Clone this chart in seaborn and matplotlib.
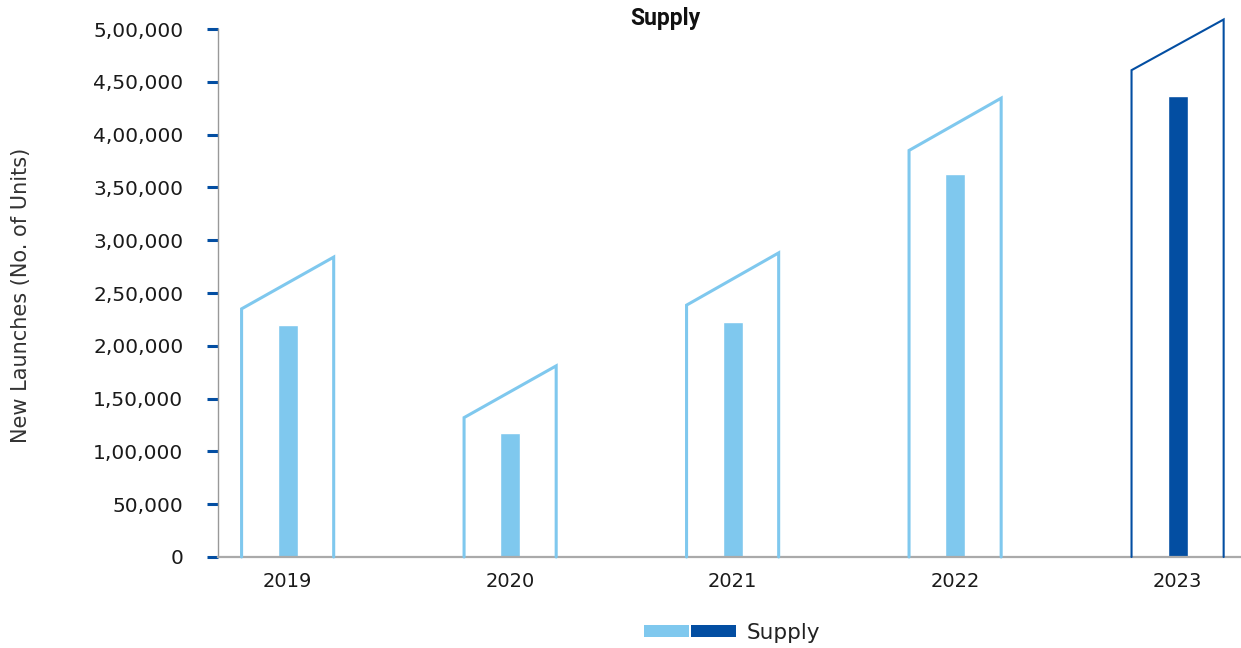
import matplotlib
matplotlib.use("Agg")
import matplotlib.pyplot as plt
import seaborn as sns
import pandas as pd
from matplotlib.patches import Patch
from matplotlib.legend_handler import HandlerTuple
from matplotlib.ticker import FuncFormatter

# values
years = ["2019", "2020", "2021", "2022", "2023"]
supply = [220000, 117500, 222500, 363000, 437000]
# decorative "building" outline around each bar: left and right roof heights
frame_left = [235000, 132000, 238500, 385000, 461000]
frame_right = [284000, 181000, 288000, 434500, 509000]
y_ticks = [0, 50000, 100000, 150000, 200000, 250000, 300000, 350000, 400000, 450000, 500000]

light_blue = "#7fc8ee"
dark_blue = "#034ea2"
bar_colors = [light_blue, light_blue, light_blue, light_blue, dark_blue]


def indian_format(v, pos=None):
    # 500000 -> 5,00,000
    s = str(int(round(v)))
    if len(s) <= 3:
        return s
    last3 = s[-3:]
    rest = s[:-3]
    parts = []
    while len(rest) > 2:
        parts.insert(0, rest[-2:])
        rest = rest[:-2]
    if rest:
        parts.insert(0, rest)
    return ",".join(parts) + "," + last3


sns.set_style("white")
plt.rcParams["font.family"] = ["DejaVu Sans"]

df = pd.DataFrame({"Year": years, "Supply": supply})

fig = plt.figure(figsize=(12.41, 6.48), dpi=100)
ax = fig.add_axes([218 / 1241, 1 - 557 / 648, 1 - 218 / 1241, 528 / 648])

sns.barplot(data=df, x="Year", y="Supply", hue="Year", palette=bar_colors,
            width=0.09, dodge=False, legend=False, ax=ax, saturation=1)

# outlines
half = 0.207
for i, yr in enumerate(years):
    c = bar_colors[i]
    lw = 2.2 if c == light_blue else 1.5
    ax.plot([i - half, i - half, i + half, i + half],
            [0, frame_left[i], frame_right[i], 0],
            color=c, lw=lw, clip_on=False, solid_joinstyle="miter", zorder=3)

ax.set_xlim(-0.313, 4.285)
ax.set_ylim(0, 500000)
ax.set_yticks(y_ticks)
ax.yaxis.set_major_formatter(FuncFormatter(indian_format))

ax.tick_params(axis="y", which="major", length=8, width=2.2, color=dark_blue,
               pad=17, labelsize=14.5, labelcolor="#1a1a1a", direction="out", left=True)
ax.tick_params(axis="x", length=0, pad=11, labelsize=14, labelcolor="#1a1a1a")

for s in ["top", "right"]:
    ax.spines[s].set_visible(False)
ax.spines["left"].set_color("#999999")
ax.spines["left"].set_linewidth(1.0)
ax.spines["bottom"].set_color("#aaaaaa")
ax.spines["bottom"].set_linewidth(1.6)

ax.set_xlabel("")
ax.set_ylabel("New Launches (No. of Units)", fontsize=15, color="#333333")
ax.yaxis.set_label_coords(-0.183, 0.496)

fig.text(665 / 1241, 1 - 19 / 648, "Supply", ha="center", va="center",
         fontsize=16.5, fontweight="bold", family=["Roboto", "DejaVu Sans"], color="#111111")

handles = [(Patch(facecolor=light_blue, edgecolor="none"),
            Patch(facecolor=dark_blue, edgecolor="none"))]
fig.legend(handles=handles, labels=["Supply"], loc="center",
           bbox_to_anchor=(732 / 1241, 1 - 633 / 648), frameon=False,
           fontsize=15.5, handlelength=4.3, handleheight=0.5, handletextpad=0.5,
           handler_map={tuple: HandlerTuple(ndivide=None, pad=0.1)},
           labelcolor="#222222")

fig.savefig("out.png", dpi=100)
